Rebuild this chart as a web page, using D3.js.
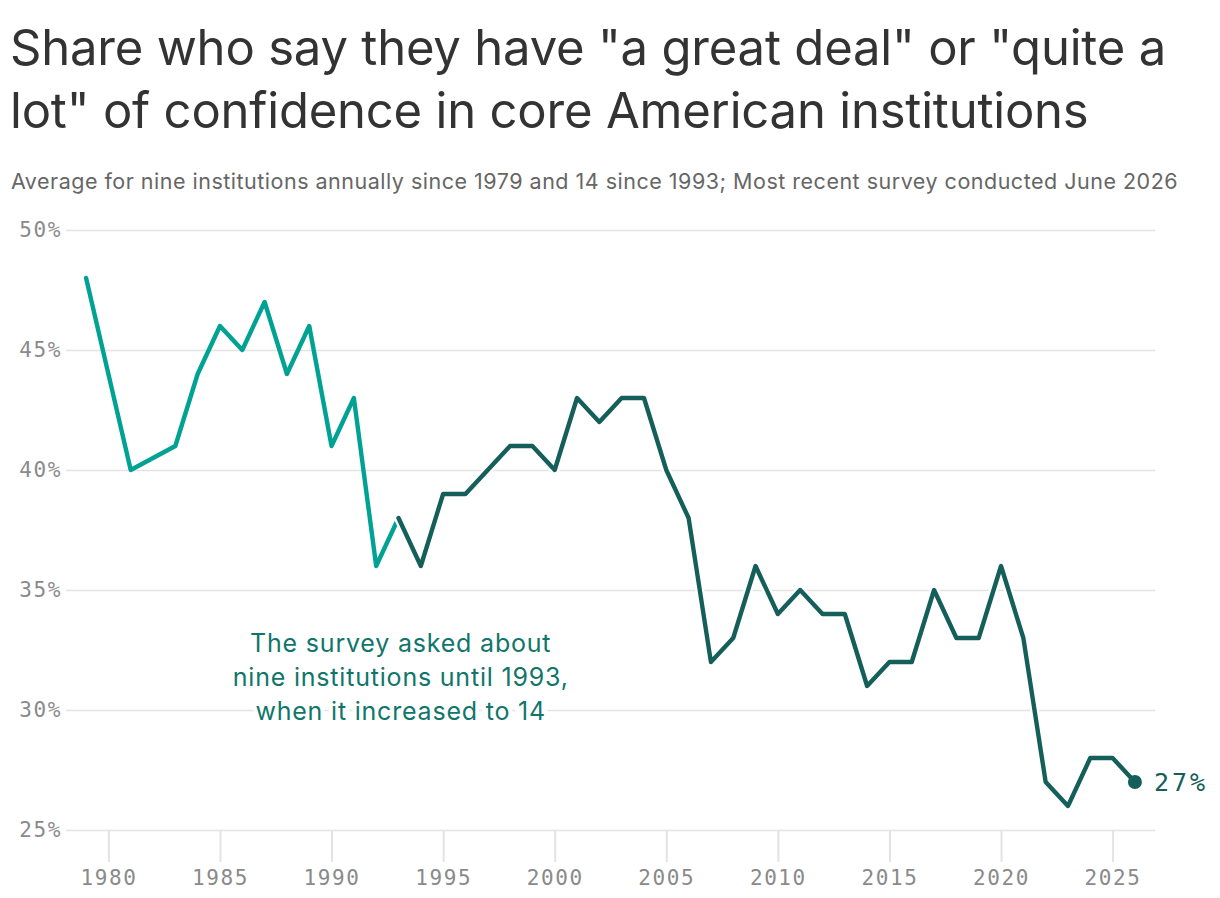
<!DOCTYPE html>
<html>
<head>
<meta charset="utf-8">
<script src="https://cdn.jsdelivr.net/npm/d3@7"></script>
<style>
  html, body { margin: 0; padding: 0; background: #fff; }
  svg { display: block; }
</style>
</head>
<body>
<svg id="chart" width="1220" height="898"></svg>
<script>
// ---- Data ----
const titleLines = ['Share who say they have "a great deal" or "quite a', 'lot" of confidence in core American institutions'];
const subtitle = "Average for nine institutions annually since 1979 and 14 since 1993; Most recent survey conducted June 2026";

const nineYears  = [1979, 1981, 1983, 1984, 1985, 1986, 1987, 1988, 1989, 1990, 1991, 1992, 1993];
const nineValues = [48,   40,   41,   44,   46,   45,   47,   44,   46,   41,   43,   36,   38];

const fourteenYears  = [1993, 1994, 1995, 1996, 1997, 1998, 1999, 2000, 2001, 2002, 2003, 2004, 2005, 2006, 2007, 2008, 2009, 2010, 2011, 2012, 2013, 2014, 2015, 2016, 2017, 2018, 2019, 2020, 2021, 2022, 2023, 2024, 2025, 2026];
const fourteenValues = [38,   36,   39,   39,   40,   41,   41,   40,   43,   42,   43,   43,   40,   38,   32,   33,   36,   34,   35,   34,   34,   31,   32,   32,   35,   33,   33,   36,   33,   27,   26,   28,   28,   27];

const yTicks = [25, 30, 35, 40, 45, 50];
const xTicks = [1980, 1985, 1990, 1995, 2000, 2005, 2010, 2015, 2020, 2025];
const annotationLines = ["The survey asked about", "nine institutions until 1993,", "when it increased to 14"];
const annotationYear = 1993.1, annotationValue = 32.4;

// ---- Style ----
const colLight = "#00a294";
const colDark = "#155f5a";
const colNote = "#10766b";
const gridCol = "#e3e3e3";
const tickFont = "'DejaVu Sans Mono', monospace";
const textFont = "Inter, 'Noto Sans', sans-serif";

const svg = d3.select("#chart");

const mLeft = 66, mRight = 1155, mTop = 230, mBottom = 830;
const x = d3.scaleLinear().domain([1978.1, 2026.9]).range([mLeft, mRight]);
const y = d3.scaleLinear().domain([25, 50]).range([mBottom, mTop]);

// Title
svg.append("g").selectAll("text").data(titleLines).join("text")
  .attr("x", 10).attr("y", (d, i) => 65 + i * 63)
  .attr("font-family", textFont).attr("font-size", 49).attr("font-weight", 400)
  .attr("letter-spacing", -0.2)
  .attr("fill", "#333").text(d => d);

svg.append("text").attr("x", 11).attr("y", 189)
  .attr("font-family", textFont).attr("font-size", 21.5)
  .attr("fill", "#666").attr("letter-spacing", 0.5).text(subtitle);

// Grid + y labels
const yAxis = d3.axisLeft(y).tickValues(yTicks).tickSize(-(mRight - mLeft)).tickFormat(d => d + "%").tickPadding(4);
const gy = svg.append("g").attr("transform", `translate(${mLeft},0)`).call(yAxis);
gy.select(".domain").remove();
gy.selectAll(".tick line").attr("stroke", gridCol).attr("stroke-width", 1.5);
gy.selectAll(".tick text").attr("font-family", tickFont).attr("font-size", 21).attr("fill", "#8a8a8a").attr("letter-spacing", 1.6);

// x ticks
const xAxis = d3.axisBottom(x).tickValues(xTicks).tickSize(32).tickFormat(d3.format("d")).tickPadding(8);
const gx = svg.append("g").attr("transform", `translate(0,${mBottom})`).call(xAxis);
gx.select(".domain").remove();
gx.selectAll(".tick line").attr("stroke", gridCol).attr("stroke-width", 2);
gx.selectAll(".tick text").attr("font-family", tickFont).attr("font-size", 21).attr("fill", "#8a8a8a").attr("letter-spacing", 1.6);

// Annotation
svg.append("g").selectAll("text").data(annotationLines).join("text")
  .attr("x", x(annotationYear) ).attr("y", (d, i) => y(annotationValue) + i * 34)
  .attr("text-anchor", "middle")
  .attr("font-family", textFont).attr("font-size", 25)
  .attr("fill", colNote).attr("stroke", "#fff").attr("stroke-width", 8)
  .attr("paint-order", "stroke").attr("letter-spacing", 0.8)
  .text(d => d);

// Lines
const line = d3.line().x(d => x(d[0])).y(d => y(d[1]));
const nine = nineYears.map((yr, i) => [yr, nineValues[i]]);
const fourteen = fourteenYears.map((yr, i) => [yr, fourteenValues[i]]);

svg.append("path").datum(nine).attr("d", line)
  .attr("fill", "none").attr("stroke", colLight).attr("stroke-width", 4.4)
  .attr("stroke-linejoin", "round").attr("stroke-linecap", "round");
svg.append("path").datum(fourteen).attr("d", line)
  .attr("fill", "none").attr("stroke", "#fff").attr("stroke-width", 9)
  .attr("stroke-linejoin", "round").attr("stroke-linecap", "round");
svg.append("path").datum(fourteen).attr("d", line)
  .attr("fill", "none").attr("stroke", colDark).attr("stroke-width", 4.4)
  .attr("stroke-linejoin", "round").attr("stroke-linecap", "round");

// End point
const last = fourteen[fourteen.length - 1];
svg.append("circle").attr("cx", x(last[0])).attr("cy", y(last[1])).attr("r", 7).attr("fill", colDark);
svg.append("text").attr("x", x(last[0]) + 19).attr("y", y(last[1]))
  .attr("dy", "0.36em").attr("font-family", tickFont).attr("font-size", 25)
  .attr("fill", colDark).attr("letter-spacing", 3).text(last[1] + "%");
</script>
</body>
</html>
